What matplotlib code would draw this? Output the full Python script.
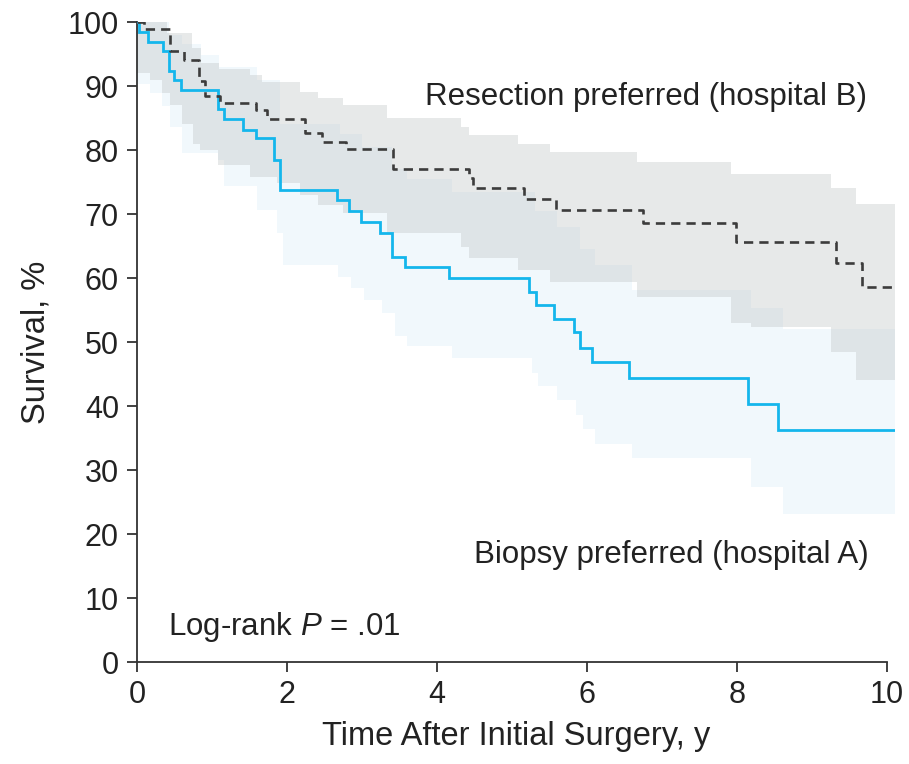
import matplotlib
matplotlib.use("Agg")
import matplotlib.pyplot as plt

plt.rcParams['font.family'] = ['Liberation Sans', 'DejaVu Sans']
plt.rcParams['mathtext.fontset'] = 'custom'
plt.rcParams['mathtext.it'] = 'Liberation Sans:italic'
plt.rcParams['mathtext.rm'] = 'Liberation Sans'

# Kaplan-Meier, biopsy preferred (hospital A)
t_a = [0, 0.02, 0.15, 0.34, 0.42, 0.49, 0.58, 1.08, 1.16, 1.41, 1.58, 1.83, 1.91,
       2.66, 2.82, 2.98, 3.24, 3.40, 3.57, 4.16, 5.23, 5.32, 5.56, 5.82, 5.90,
       6.06, 6.56, 8.14, 8.55, 10.1]
s_a = [100, 98.5, 96.9, 95.4, 92.3, 90.9, 89.3, 86.4, 84.8, 83.2, 81.8, 78.4, 73.8,
       72.2, 70.4, 68.7, 67.1, 63.3, 61.7, 60.0, 57.8, 55.8, 53.6, 51.5, 49.1,
       46.8, 44.4, 40.3, 36.25, 36.25]

# Kaplan-Meier, resection preferred (hospital B)
t_b = [0, 0.09, 0.44, 0.62, 0.82, 0.91, 1.10, 1.58, 1.73, 2.24, 2.46, 2.79, 3.41,
       4.43, 4.48, 5.16, 5.58, 6.74, 7.98, 9.32, 9.66, 10.1]
s_b = [100, 98.9, 95.4, 94.1, 90.8, 88.4, 87.3, 86.3, 84.9, 82.6, 81.3, 80.1, 77.1,
       75.7, 74.0, 72.3, 70.6, 68.6, 65.7, 62.3, 58.6, 58.6]

# confidence bands, hospital A
ta_lo = [0, 0.17, 0.33, 0.44, 0.6, 1.08, 1.16, 1.6, 1.86, 1.94, 2.68, 2.85, 3.02,
         3.27, 3.44, 3.6, 4.2, 5.26, 5.35, 5.6, 5.85, 5.94, 6.11, 6.6, 8.19, 8.61, 10.1]
lo_a = [90.3, 88.9, 86.8, 83.6, 79.5, 78.4, 74.3, 70.6, 67.1, 62.0, 60.2, 58.4, 56.6,
        54.6, 50.9, 49.3, 47.5, 45.2, 43.1, 40.9, 38.6, 36.4, 34.1, 31.8, 27.3, 23.1, 23.1]
ta_hi = [0, 0.42, 0.6, 0.85, 1.09, 1.6, 1.91, 2.7, 3.0, 3.4, 3.6, 4.2, 5.3, 5.6,
         5.9, 6.1, 6.6, 8.19, 8.62, 10.1]
hi_a = [100, 98, 96.5, 94.8, 93.0, 91, 84, 82.5, 80.5, 77, 75.5, 73.5, 70.5, 68,
        64.5, 62, 58.1, 55.3, 52.1, 52.1]

# confidence bands, hospital B
tb_lo = [0, 0.17, 0.33, 0.44, 0.6, 0.75, 0.84, 1.08, 1.51, 1.86, 2.17, 2.41, 2.75,
         3.33, 4.32, 4.42, 5.08, 5.51, 6.66, 7.92, 8.19, 9.25, 9.59, 10.1]
lo_b = [92.0, 90.9, 88.9, 87.0, 84.0, 81.0, 80.0, 77.6, 75.8, 74.8, 73.0, 71.4, 70.1,
        67.0, 64.9, 63.1, 61.25, 59.3, 57.1, 53.0, 52.4, 48.5, 44.1, 44.1]
tb_hi = [0, 0.40, 0.73, 0.85, 1.09, 1.51, 1.66, 2.17, 2.41, 2.75, 3.33, 4.32, 4.42,
         5.08, 5.51, 6.66, 7.92, 9.25, 9.59, 10.1]
hi_b = [100, 98.3, 96.0, 93.6, 92.7, 91.7, 90.7, 89.1, 88.1, 87.0, 85.0, 83.6, 82.3,
        81.0, 79.7, 78.2, 76.25, 74.0, 71.5, 71.5]


def merge_band(t_lo, lo, t_hi, hi):
    ts = sorted(set(t_lo) | set(t_hi))
    def val(tl, vl, x):
        v = vl[0]
        for a, b in zip(tl, vl):
            if a <= x:
                v = b
        return v
    return ts, [val(t_lo, lo, x) for x in ts], [val(t_hi, hi, x) for x in ts]


fig = plt.figure(figsize=(9.09, 7.64), dpi=100)
ax = fig.add_axes([137 / 909, 1 - 662 / 764, (894.5 - 137) / 909, 640 / 764])

ts, l, h = merge_band(ta_lo, lo_a, ta_hi, hi_a)
ax.fill_between(ts, l, h, step='post', color='#f1f8fc', lw=0, zorder=1)
ts, l, h = merge_band(tb_lo, lo_b, tb_hi, hi_b)
ax.fill_between(ts, l, h, step='post', color='#bcc0c0', alpha=0.35, lw=0, zorder=2)

ax.plot(t_a, s_a, drawstyle='steps-post', color='#14b6ec', lw=2.0, zorder=4,
        solid_joinstyle='miter')
ax.plot(t_b, s_b, drawstyle='steps-post', color='#3c3c3c', lw=1.9, zorder=4,
        dashes=(3.5, 2.3))

ax.set_xlim(0, 10.1)
ax.set_ylim(0, 100)
ax.set_xticks(range(0, 11, 2))
ax.set_yticks(range(0, 101, 10))
for s in ['top', 'right']:
    ax.spines[s].set_visible(False)
for s in ['left', 'bottom']:
    ax.spines[s].set_linewidth(1.3)
    ax.spines[s].set_color('#333333')
ax.spines['bottom'].set_bounds(0, 10)
ax.tick_params(length=7, width=1.3, color='#333333', labelsize=22, pad=6,
               labelcolor='#222222')

ax.set_xlabel('Time After Initial Surgery, y', fontsize=23.5, color='#222222', labelpad=8)
ax.set_ylabel('Survival, %', fontsize=23.5, color='#222222', labelpad=12)

ax.text(6.79, 88.3, 'Resection preferred (hospital B)', fontsize=22.5,
        ha='center', va='center', color='#222222')
ax.text(7.13, 16.7, 'Biopsy preferred (hospital A)', fontsize=22.5,
        ha='center', va='center', color='#222222')
ax.text(0.41, 5.5, 'Log-rank $P$ = .01', fontsize=22.5,
        ha='left', va='center', color='#222222')

fig.savefig('out.png', dpi=100)
